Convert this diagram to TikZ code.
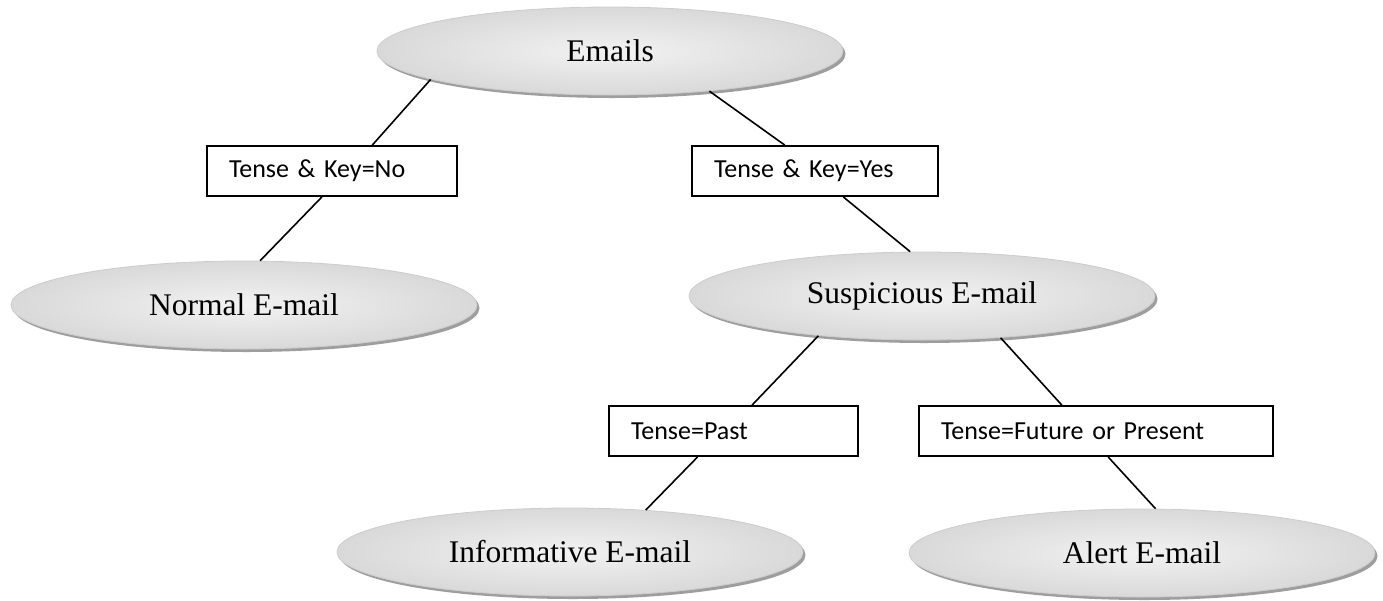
\documentclass[tikz,border=0pt]{standalone}
\usepackage{fontspec}
\setmainfont{Liberation Serif}
\newfontfamily\labelfont{Carlito}
\usetikzlibrary{shapes.geometric,shadows,calc}

\begin{document}
\begin{tikzpicture}[x=1pt,y=-1pt,
  leaf/.style={ellipse, minimum width=466pt, minimum height=88pt, inner sep=0pt,
    draw=black!20, line width=0.8pt, inner color=black!5, outer color=black!15,
    drop shadow={shadow xshift=2.5pt, shadow yshift=-3pt, fill=black!38, opacity=1},
    font=\fontsize{31.5}{36}\selectfont},
  cond/.style={draw=black, line width=1.8pt, fill=white, minimum height=50pt,
    inner xsep=22pt, inner ysep=0pt, align=left,
    font=\labelfont\fontsize{26}{30}\selectfont},
  link/.style={line width=1.6pt}
]
\useasboundingbox (0,0) rectangle (1383,600);

% tree nodes
\node[leaf] (emails) at (610,51) {Emails};
\node[leaf] (normal) at (244,305) {Normal E-mail};
\node[leaf] (susp) at (922,296) {Suspicious E-mail};
\node[leaf] (info) at (570,552) {Informative E-mail};
\node[leaf] (alert) at (1142,553) {Alert E-mail};

% condition boxes
\node[cond, text width=206pt] (b1) at (332,171) {Tense \& Key=No};
\node[cond, text width=202pt] (b2) at (815,171) {Tense \& Key=Yes};
\node[cond, text width=205pt] (b3) at (733.5,431) {Tense=Past};
\node[cond, text width=310pt] (b4) at (1096,431) {Tense=Future or Present};

% connectors
\draw[link] (emails.189) -- ($(b1.north west)!0.66!(b1.north east)$);
\draw[link] (emails.338.6) -- ($(b2.north west)!0.378!(b2.north east)$);
\draw[link] ($(b1.south west)!0.46!(b1.south east)$) -- (normal.70.8);
\draw[link] ($(b2.south west)!0.614!(b2.south east)$) -- (susp.105.3);
\draw[link] (susp.201.9) -- ($(b3.north west)!0.574!(b3.north east)$);
\draw[link] (susp.332) -- ($(b4.north west)!0.404!(b4.north east)$);
\draw[link] ($(b3.south west)!0.357!(b3.south east)$) -- (info.29.9);
\draw[link] ($(b4.south west)!0.534!(b4.south east)$) -- (alert.73.9);
\end{tikzpicture}
\end{document}
